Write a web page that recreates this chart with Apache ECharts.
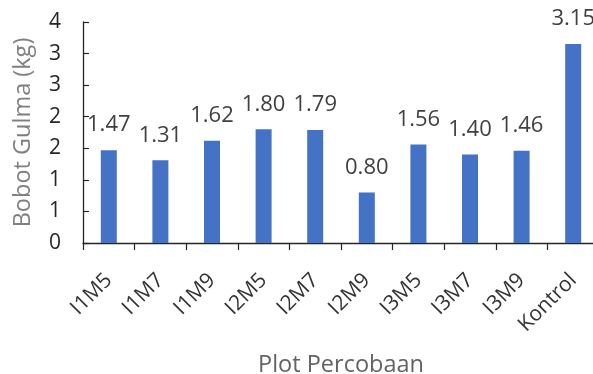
<!DOCTYPE html>
<html>
<head>
<meta charset="utf-8">
<script src="https://cdn.jsdelivr.net/npm/echarts@6/dist/echarts.min.js"></script>
<style>
html,body{margin:0;padding:0;background:#fff;}
#c{width:593px;height:374px;}
</style>
</head>
<body>
<div id="c"></div>
<script>
var categories = ['I1M5','I1M7','I1M9','I2M5','I2M7','I2M9','I3M5','I3M7','I3M9','Kontrol'];
var values = [1.47, 1.31, 1.62, 1.80, 1.79, 0.80, 1.56, 1.40, 1.46, 3.15];
var yTicks = [0, 0.5, 1, 1.5, 2, 2.5, 3, 3.5];
var yTickLabels = ['0','1','1','2','2','3','3','4'];
var yName = 'Bobot Gulma (kg)';
var xName = 'Plot Percobaan';

var font = 'Open Sans';
var chart = echarts.init(document.getElementById('c'));
chart.setOption({
  animation: false,
  grid: {left: 83, top: 22, width: 516, height: 221, containLabel: false, outerBoundsMode: 'none'},
  xAxis: {
    type: 'category',
    data: categories,
    name: xName,
    nameLocation: 'middle',
    nameGap: 110,
    nameTextStyle: {color: '#636363', fontSize: 23.5, fontFamily: font},
    axisLine: {lineStyle: {color: '#262626', width: 1.3}},
    axisTick: {show: true, length: 7, lineStyle: {color: '#262626', width: 1.2}},
    axisLabel: {rotate: 45, margin: 34, color: '#333333', fontSize: 21, fontFamily: font, interval: 0}
  },
  yAxis: {
    type: 'value',
    min: yTicks[0],
    max: yTicks[yTicks.length - 1],
    interval: yTicks[1] - yTicks[0],
    name: yName,
    nameLocation: 'middle',
    nameGap: 48,
    nameTextStyle: {color: '#808080', fontSize: 23.5, fontFamily: font},
    axisLine: {show: true, lineStyle: {color: '#262626', width: 1.3}},
    axisTick: {show: true, inside: true, length: 6, lineStyle: {color: '#262626', width: 1.2}},
    splitLine: {show: false},
    axisLabel: {
      margin: 22, color: '#262626', fontSize: 21, fontFamily: font,
      formatter: function (v) {
        var i = yTicks.indexOf(Math.round(v * 100) / 100);
        return i >= 0 ? yTickLabels[i] : '';
      }
    }
  },
  series: [{
    type: 'bar',
    data: values,
    barWidth: 16,
    itemStyle: {color: '#4472C4'},
    label: {
      show: true, position: 'top', distance: 14,
      color: '#404040', fontSize: 22, fontFamily: font,
      formatter: function (p) { return p.value.toFixed(2); }
    }
  }]
});
</script>
</body>
</html>
